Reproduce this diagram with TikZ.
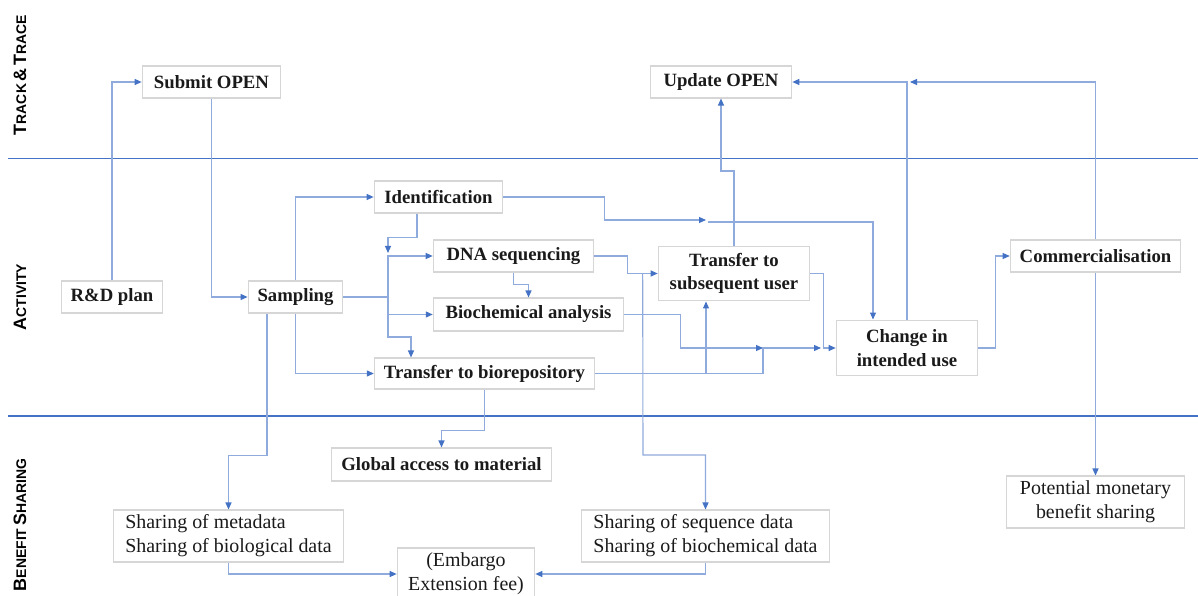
\documentclass[tikz,border=0pt]{standalone}
\usepackage{fontspec}
\setmainfont{Liberation Serif}
\setsansfont{Liberation Sans}
\usetikzlibrary{arrows.meta}
\definecolor{lineColor}{HTML}{8FAADC}
\definecolor{arrowColor}{HTML}{4472C4}
\definecolor{bandColor}{HTML}{4472C4}
\definecolor{boxBorderColor}{HTML}{D6D6D6}
\definecolor{boxTextColor}{HTML}{1A1A1A}
\newcommand{\capBig}[1]{{\fontsize{18}{18}\selectfont #1}}
\newcommand{\capSmall}[1]{{\fontsize{14}{14}\selectfont #1}}
\def\textA{Submit OPEN}
\def\textB{Update OPEN}
\def\textC{R\&D plan}
\def\textD{Sampling}
\def\textE{Identification}
\def\textF{DNA sequencing}
\def\textG{Biochemical analysis}
\def\textH{Transfer to biorepository}
\def\textI{Transfer to\\subsequent user}
\def\textJ{Change in\\intended use}
\def\textK{Commercialisation}
\def\textL{Global access to material}
\def\textM{Sharing of metadata\\Sharing of biological data}
\def\textN{(Embargo\\Extension fee)}
\def\textO{Sharing of sequence data\\Sharing of biochemical data}
\def\textP{Potential monetary\\benefit sharing}
\tikzset{
  box/.style={draw=boxBorderColor, fill=white, line width=1.2bp, inner sep=0pt,
    align=center, text=boxTextColor, font=\fontsize{18.8}{23.5}\selectfont\bfseries},
  plainBox/.style={box, font=\fontsize{20}{24}\selectfont},
  linkLine/.style={draw=lineColor, line width=1.1bp},
  linkArrow/.style={linkLine, -{Triangle[length=7bp, width=6bp, color=arrowColor]}},
  bandLine/.style={draw=bandColor, line width=1.6bp},
  bandLabel/.style={rotate=90, anchor=center, inner sep=0pt, font=\sffamily\bfseries}
}

\begin{document}
\begin{tikzpicture}[x=1bp,y=-1bp]
\fill[white] (0, 0) rectangle (1198, 596);
\useasboundingbox (0, 0) rectangle (1198, 596);

% band layer
\begin{scope}
\draw[bandLine] (8, 158.5) -- (1198, 158.5);
\draw[bandLine] (8, 416) -- (1198, 416);
\node[bandLabel] (trackLabel) at (20, 75)
  {\capBig{T}\capSmall{RACK} \capBig{\&} \capBig{T}\capSmall{RACE}};
\node[bandLabel] (activityLabel) at (20, 297)
  {\capBig{A}\capSmall{CTIVITY}};
\node[bandLabel] (benefitLabel) at (20, 525)
  {\capBig{B}\capSmall{ENEFIT} \capBig{S}\capSmall{HARING}};
\end{scope}

% box layer
\begin{scope}
\node[box, minimum width=139, minimum height=32] (submitOpen) at (211.5, 82) {\textA};
\node[box, minimum width=142, minimum height=32] (updateOpen) at (721, 82) {\textB};
\node[box, minimum width=102, minimum height=32] (rdPlan) at (112, 297) {\textC};
\node[box, minimum width=95, minimum height=32] (sampling) at (295.5, 297) {\textD};
\node[box, minimum width=129, minimum height=32] (identification) at (438.5, 197) {\textE};
\node[box, minimum width=161, minimum height=32] (dnaSeq) at (513.5, 256) {\textF};
\node[box, minimum width=191, minimum height=33] (biochem) at (528.5, 314.5) {\textG};
\node[box, minimum width=221, minimum height=31] (bioRepo) at (484.5, 373.5) {\textH};
\node[box, minimum width=152, minimum height=55] (subUser) at (734, 273.5) {\textI};
\node[box, minimum width=142, minimum height=56] (changeUse) at (907, 348) {\textJ};
\node[box, minimum width=171, minimum height=32] (commercial) at (1095.5, 256) {\textK};
\node[box, minimum width=221, minimum height=33] (globalAccess) at (441.5, 464.5) {\textL};
\node[plainBox, align=left, minimum width=231, minimum height=52] (shareMeta) at (228.5, 536) {\textM};
\node[plainBox, minimum width=138, minimum height=52] (embargo) at (466, 574) {\textN};
\node[plainBox, align=left, minimum width=249, minimum height=52] (shareSeq) at (705.5, 536) {\textO};
\node[plainBox, minimum width=179, minimum height=52] (monetary) at (1095.5, 502) {\textP};
\end{scope}

% joins
\coordinate (hub) at (388, 297);
\coordinate (hubLow) at (388, 337);
\coordinate (idMerge) at (388, 253);
\coordinate (idJoin) at (706, 220);
\coordinate (idOut) at (708, 222);
\coordinate (seqDrop) at (643, 455);
\coordinate (useJoin) at (763, 348);
\coordinate (useJoinB) at (821, 348);
\coordinate (openJoin) at (910, 82);

% link layer
\begin{scope}
\draw[linkArrow] (rdPlan.north) |- (submitOpen.west);
\draw[linkArrow] (submitOpen.south) |- (sampling.west);
\draw[linkArrow] (sampling.north) |- (identification.west);
\draw[linkArrow] (sampling.south) |- (bioRepo.west);
\draw[linkLine] (sampling.east) -- (hub);
\draw[linkArrow] (hub) |- (dnaSeq.west);
\draw[linkArrow] (hub) |- (biochem.west);
\draw[linkArrow] (hub) -- (hubLow) -| ([xshift=-73.5bp]bioRepo.north);
\draw[linkArrow] ([xshift=-21.5bp]identification.south) -- ++(0, 24) -| (idMerge);
\draw[linkArrow] (dnaSeq.south) -- ++(0, 12) -| (biochem.north);
\draw[linkArrow] (identification.east) -- ++(101, 0) |- (idJoin);
\draw[linkArrow] (idOut) -| ([xshift=-34bp]changeUse.north);
\draw[linkArrow] (dnaSeq.east) -- ++(33, 0) |- (subUser.west);
\draw[linkArrow] ([xshift=-15bp]subUser.west) -- (seqDrop) -| (shareSeq.north);
\draw[linkArrow] (biochem.east) -- ++(56, 0) |- (useJoin);
\draw[linkArrow] (bioRepo.east) -| ([xshift=-28bp]subUser.south);
\draw[linkArrow] (bioRepo.east) -| (useJoin) -- (useJoinB);
\draw[linkArrow] (subUser.east) -- ++(13, 0) |- (changeUse.west);
\draw[linkArrow] (subUser.north) -- ++(0, -74.5) -| (updateOpen.south);
\draw[linkArrow] (changeUse.north) |- (updateOpen.east);
\draw[linkArrow] (commercial.north) |- (openJoin);
\draw[linkArrow] (changeUse.east) -- ++(17, 0) |- (commercial.west);
\draw[linkArrow] (commercial.south) -- (monetary.north);
\draw[linkArrow] ([xshift=-28.5bp]sampling.south) -- ++(0, 142) -| (shareMeta.north);
\draw[linkArrow] (bioRepo.south) -- ++(0, 41) -| (globalAccess.north);
\draw[linkArrow] (shareMeta.south) |- (embargo.west);
\draw[linkArrow] (shareSeq.south) |- (embargo.east);
\end{scope}

\end{tikzpicture}
\end{document}
